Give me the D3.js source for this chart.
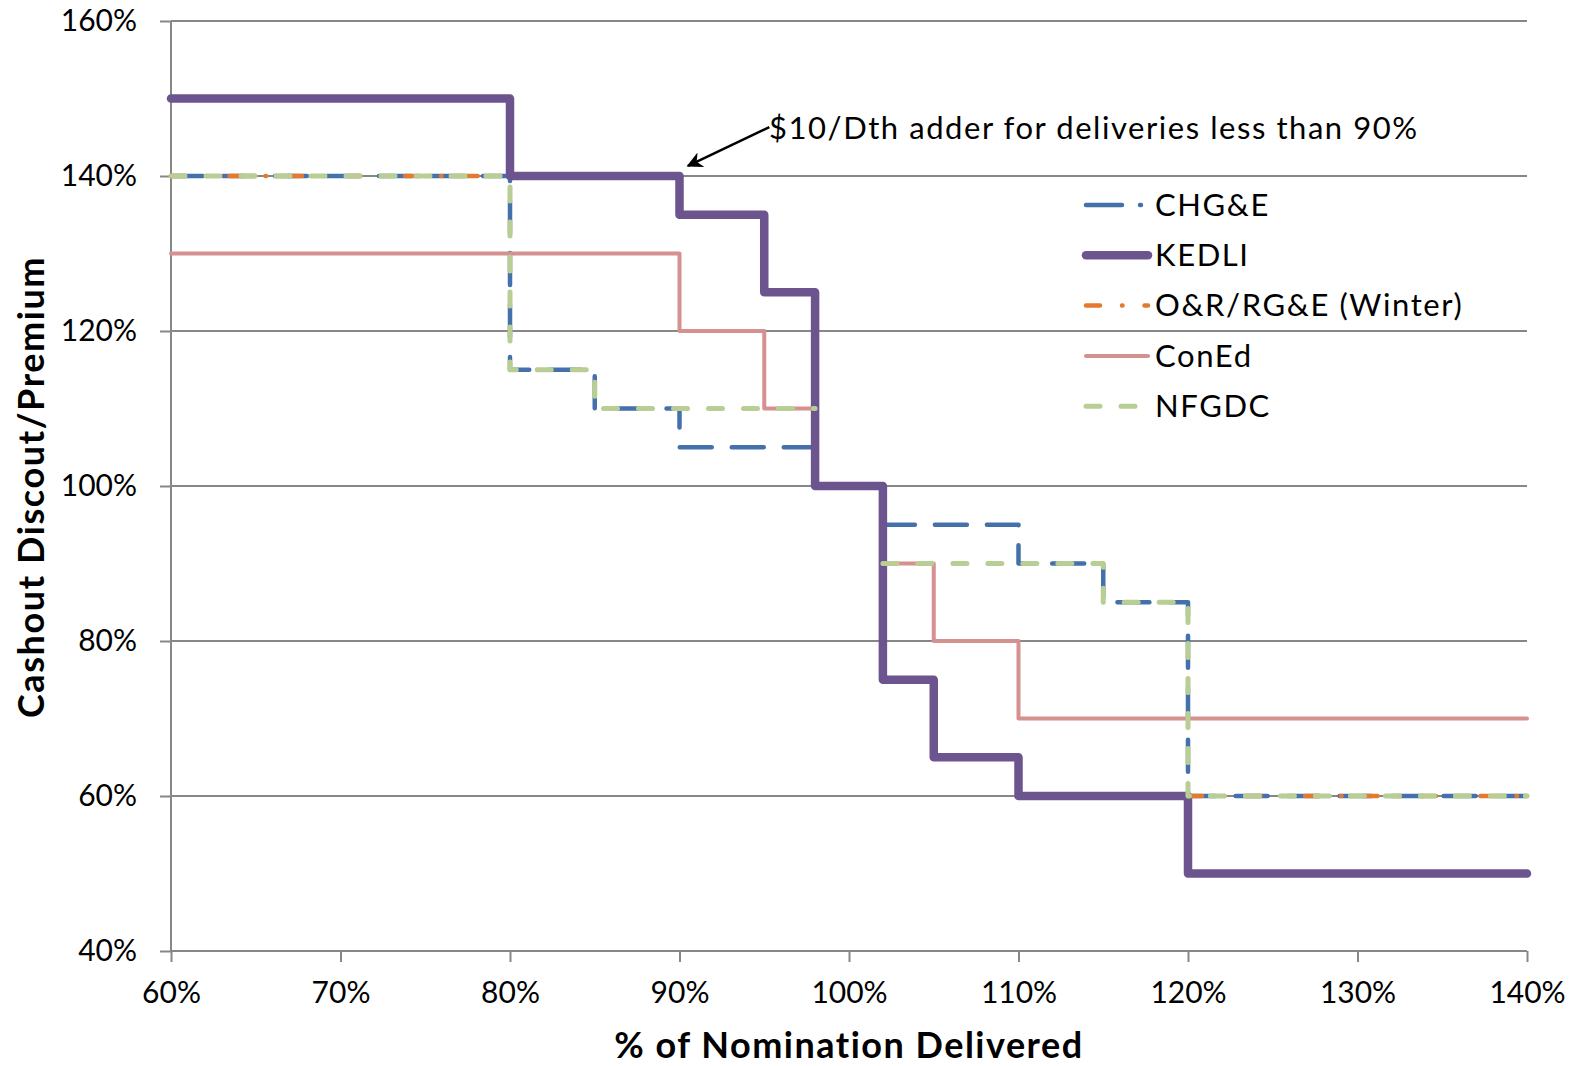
<!DOCTYPE html>
<html><head><meta charset="utf-8">
<script src="https://cdn.jsdelivr.net/npm/d3@7"></script>
<style>
html,body{margin:0;padding:0;background:#fff;}
svg{display:block;}
text{font-family:Lato,"Open Sans",sans-serif;fill:#000;}
</style></head>
<body>
<svg id="chart" width="1577" height="1066"></svg>
<script>
// ---- data ----
const xTicks = [60,70,80,90,100,110,120,130,140];
const yTicks = [40,60,80,100,120,140,160];
const seriesNames = ["CHG&E","KEDLI","O&R/RG&E (Winter)","ConEd","NFGDC"];
// step points (value holds from x until the next x); null = gap
const chgeX  = [60,80,85,90,98,null,102,110,115,120,140];
const chgeY  = [140,115,110,105,105,null,95,90,85,60,60];
const kedliX = [60,80,90,95,98,102,105,110,120,140];
const kedliY = [150,140,135,125,100,75,65,60,50,50];
const orX    = [60,80,null,120,140];
const orY    = [140,140,null,60,60];
const conedX = [60,90,95,98,null,102,105,110,140];
const conedY = [130,120,110,110,null,90,80,70,70];
const nfgdcX = [60,80,85,98,null,102,115,120,140];
const nfgdcY = [140,115,110,110,null,90,85,60,60];
const annotation = "$10/Dth adder for deliveries less than 90%";
const xTitle = "% of Nomination Delivered";
const yTitle = "Cashout Discout/Premium";

const styles = [
  {color:"#4470AC", width:4.5, dash:"32,20", legendDash:"36,18,1,20"},
  {color:"#6C548F", width:8.5, dash:null, legendDash:null},
  {color:"#E27B2F", width:4.5, dash:"14,22,0.5,22", legendDash:"14,22,0.5,22"},
  {color:"#D59090", width:4, dash:null, legendDash:null},
  {color:"#B8CE94", width:5, dash:"14,21", legendDash:"14,21"}
];
const dataX = [chgeX,kedliX,orX,conedX,nfgdcX];
const dataY = [chgeY,kedliY,orY,conedY,nfgdcY];

const svg = d3.select("#chart");
const L=171, R=1527, T=21, B=951;
const x = d3.scaleLinear().domain([60,140]).range([L,R]);
const y = d3.scaleLinear().domain([40,160]).range([B,T]);
const grid = "#878787";

// gridlines
svg.append("g").selectAll("line").data(yTicks.filter(v=>v>40)).join("line")
  .attr("x1",L).attr("x2",R).attr("y1",d=>y(d)).attr("y2",d=>y(d))
  .attr("stroke",grid).attr("stroke-width",2);

// axes
const yAxis = d3.axisLeft(y).tickValues(yTicks).tickSize(11).tickPadding(23).tickFormat(d=>d+"%");
const gy = svg.append("g").attr("transform",`translate(${L},0)`).call(yAxis);
const xAxis = d3.axisBottom(x).tickValues(xTicks).tickSize(11).tickPadding(20).tickFormat(d=>d+"%");
const gx = svg.append("g").attr("transform",`translate(0,${B})`).call(xAxis);
[gx,gy].forEach(g=>{
  g.select(".domain").attr("stroke",grid).attr("stroke-width",2);
  g.selectAll(".tick line").attr("stroke",grid).attr("stroke-width",2);
  g.selectAll(".tick text").style("font-size","30px").style("font-family","Lato").attr("fill","#000");
});
gx.select(".domain").attr("d",`M${L},0H${R}`);
gy.select(".domain").attr("d",`M0,${B}V${T}`);

// series
const line = d3.line().defined(d=>d[0]!=null)
  .x(d=>x(d[0])).y(d=>y(d[1])).curve(d3.curveStepAfter);
[0,1,2,3,4].forEach(i=>{
  const pts = dataX[i].map((v,k)=>[v,dataY[i][k]]);
  const s = styles[i];
  svg.append("path").attr("d",line(pts)).attr("fill","none")
    .attr("stroke",s.color).attr("stroke-width",s.width)
    .attr("stroke-linecap","round").attr("stroke-linejoin","round")
    .attr("stroke-dasharray",s.dash);
});

// legend
const lg = svg.append("g");
seriesNames.forEach((n,i)=>{
  const yy = 205 + i*50.3;
  const s = styles[i];
  lg.append("line").attr("x1",1086).attr("x2",1148).attr("y1",yy).attr("y2",yy)
    .attr("stroke",s.color).attr("stroke-width",s.width).attr("stroke-linecap","round")
    .attr("stroke-dasharray",s.legendDash);
  lg.append("text").attr("x",1155).attr("y",yy).attr("dy","0.35em")
    .style("font-size","31px").style("letter-spacing","1.6px").text(n);
});

// annotation
svg.append("defs").append("marker").attr("id","arr").attr("viewBox","0 0 10 10")
  .attr("refX",9).attr("refY",5).attr("markerWidth",22).attr("markerHeight",16)
  .attr("orient","auto").attr("markerUnits","userSpaceOnUse")
  .append("path").attr("d","M0,0L10,5L0,10L3,5Z").attr("fill","#000");
svg.append("line").attr("x1",x(95.3)).attr("y1",y(146.3)).attr("x2",x(90.5)).attr("y2",y(141.3))
  .attr("stroke","#000").attr("stroke-width",2.5).attr("marker-end","url(#arr)");
svg.append("text").attr("x",769).attr("y",128).attr("dy","0.35em")
  .style("font-size","31px").style("letter-spacing","1.55px").text(annotation);

// titles
svg.append("text").attr("x",(L+R)/2).attr("y",1045).attr("dy","0.35em")
  .attr("text-anchor","middle").style("font-size","36px").style("font-weight","bold")
  .style("letter-spacing","1.5px").text(xTitle);
svg.append("text").attr("transform","translate(31,487) rotate(-90)").attr("dy","0.35em")
  .attr("text-anchor","middle").style("font-size","36px").style("font-weight","bold")
  .style("letter-spacing","1.6px").text(yTitle);
</script>
</body></html>
